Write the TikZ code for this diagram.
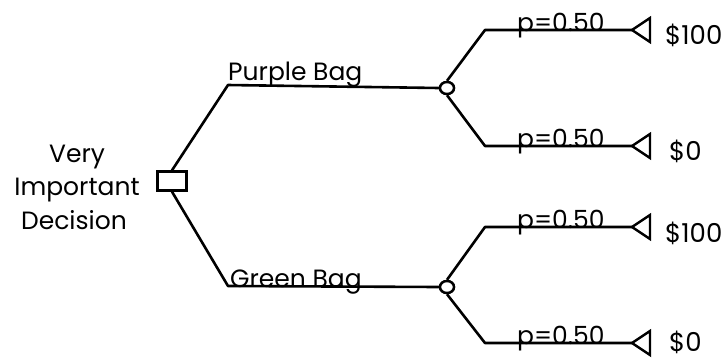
\documentclass[tikz,border=0pt]{standalone}
\usepackage{fontspec}
\setmainfont{Poppins}
\usetikzlibrary{shapes.geometric}
\begin{document}
\begin{tikzpicture}[x=1pt,y=-1pt,
  edge/.style={line width=2.6pt,line join=round},
  decision/.style={draw,line width=2.4pt,rectangle,minimum width=29pt,minimum height=19pt,inner sep=0pt},
  chance/.style={draw,line width=2.4pt,ellipse,minimum width=14pt,minimum height=12pt,inner sep=0pt,fill=white},
  lbl/.style={font=\fontsize{25}{30}\selectfont,inner sep=0pt},
  payoff/.style={font=\fontsize{26}{30}\selectfont,inner sep=0pt,anchor=base west}]
\useasboundingbox (0,0) rectangle (726,360);

% decision node and its label
\node[decision] (d) at (172,181) {};
\node[lbl,anchor=base] (dl1) at (77,162) {Very};
\node[lbl,anchor=base] (dl2) at (77,195) {Important};
\node[lbl,anchor=base] (dl3) at (74,229) {Decision};

% chance nodes
\node[chance] (c1) at (447,88) {};
\node[chance] (c2) at (447,287) {};

% bends of the branches
\coordinate (b1) at (228,85);
\coordinate (b2) at (228,286);
\coordinate (u1) at (485,30);
\coordinate (u2) at (485,146);
\coordinate (u3) at (485,227);
\coordinate (u4) at (485,343);

% terminal tips
\coordinate (t1) at (632,30);
\coordinate (t2) at (632,146);
\coordinate (t3) at (632,227);
\coordinate (t4) at (632,343);

% branches
\draw[edge] (d.north) -- (b1) -- (c1.west);
\draw[edge] (d.south) -- (b2) -- (c2.west);
\draw[edge] (c1.north) -- (u1) -- (t1);
\draw[edge] (c1.south) -- (u2) -- (t2);
\draw[edge] (c2.north) -- (u3) -- (t3);
\draw[edge] (c2.south) -- (u4) -- (t4);
\node[chance] at (c1) {};
\node[chance] at (c2) {};

% terminal triangles
\foreach \t in {t1,t2,t3,t4}
  \draw[line width=2.4pt,line join=miter] (\t) -- ++(18,-12) -- ++(0,24) -- cycle;

% branch labels
\node[lbl,anchor=base west] (pb) at (228,80) {Purple Bag};
\node[lbl,anchor=base west] (gb) at (230,287) {Green Bag};
\node[lbl,anchor=base west] (p1) at (517,31) {p=0.50};
\node[lbl,anchor=base west] (p2) at (517,147) {p=0.50};
\node[lbl,anchor=base west] (p3) at (517,228) {p=0.50};
\node[lbl,anchor=base west] (p4) at (517,344) {p=0.50};

% payoffs
\node[payoff] (v1) at (665,44) {\$100};
\node[payoff] (v2) at (669,160) {\$0};
\node[payoff] (v3) at (665,242) {\$100};
\node[payoff] (v4) at (669,351) {\$0};
\end{tikzpicture}
\end{document}
